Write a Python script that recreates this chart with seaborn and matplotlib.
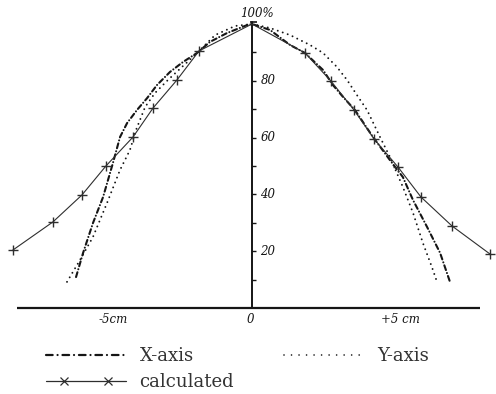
import matplotlib
matplotlib.use("Agg")
import matplotlib.pyplot as plt
from matplotlib.lines import Line2D
from matplotlib.legend_handler import HandlerLine2D, HandlerTuple
import seaborn as sns

# Measured intensity profiles (cm from centre, percent of central value)
xaxis_cm = [-6.24, -5.99, -5.64, -5.28, -4.93, -4.68, -4.43, -4.08, -3.72, -3.37,
            -2.91, -2.45, -1.95, -1.49, -0.89, -0.18, 0.0, 0.64, 1.35, 1.88,
            2.52, 2.87, 3.23, 3.65, 4.29, 4.89, 5.35, 5.71, 6.21, 6.67, 7.02]
xaxis_pct = [10.9, 19.4, 29.9, 39.1, 51.1, 60.2, 65.1, 69.7, 73.9, 78.5,
             83.1, 86.6, 89.8, 93.7, 96.8, 99.6, 100.0, 97.9, 92.6, 89.8,
             83.8, 78.5, 74.3, 69.7, 60.2, 52.1, 46.1, 38.0, 28.5, 19.4, 9.2]

yaxis_cm = [-6.56, -6.10, -5.64, -5.14, -4.68, -4.33, -4.10, -3.79, -3.44, -2.98,
            -2.48, -2.02, -1.31, -0.60, 0.0, 0.64, 1.35, 2.06, 2.52, 3.01,
            3.37, 3.72, 4.08, 4.54, 4.89, 5.35, 5.71, 6.06, 6.38, 6.56]
yaxis_pct = [9.2, 16.9, 25.0, 37.0, 48.6, 55.6, 63.0, 70.8, 75.7, 80.3,
             84.9, 89.1, 96.1, 99.3, 100.0, 98.6, 96.1, 92.6, 89.8, 84.9,
             80.3, 75.0, 69.7, 60.2, 53.2, 42.6, 33.5, 22.9, 14.4, 9.2]

# Calculated profile
calc_cm = [-8.48, -7.06, -6.03, -5.18, -4.22, -3.51, -2.66, -1.88, 0.0,
           1.88, 2.80, 3.62, 4.33, 5.18, 5.99, 7.09, 8.44]
calc_pct = [20.4, 30.3, 39.8, 50.0, 60.2, 70.4, 80.3, 90.5, 100.0,
            89.8, 79.9, 69.7, 59.5, 49.6, 39.1, 28.9, 19.0]

y_tick_labels = [80, 60, 40, 20]
y_minor = [10, 20, 30, 40, 50, 60, 70, 80, 90]

sns.set_theme(style="white")
plt.rcParams["font.family"] = ["DejaVu Serif"]

INK = "#151515"
SOFT = "#2e2e2e"

fig = plt.figure(figsize=(4.96, 3.94), dpi=100)
ax = fig.add_axes([0, 0, 1, 1])
ax.set_axis_off()
ax.set_xlim(-252 / 28.2, (496 - 252) / 28.2)
ax.set_ylim((308 - 394) / 2.84, 308 / 2.84)

# hand-drawn axes
ax.plot([-8.33, 8.09], [0, 0], color=INK, lw=1.6, solid_capstyle="butt")
ax.plot([0, 0], [0, 100.8], color=INK, lw=1.4)
ax.hlines(y_minor, 0, 0.15, color=INK, lw=1.0)
ax.hlines(100.6, -0.08, 0.18, color=INK, lw=1.2)

lab = dict(family="DejaVu Serif", fontstyle="italic", size=8.5, color=INK)
for v in y_tick_labels:
    ax.text(0.3, v, str(v), ha="left", va="center", **lab)
ax.text(0.18, 103.6, "100%", ha="center", va="center", **lab)
ax.text(-4.93, -4.0, "-5cm", ha="center", va="center", **lab)
ax.text(-0.07, -4.2, "0", ha="center", va="center", **lab)
ax.text(5.28, -4.2, "+5 cm", ha="center", va="center", **lab)

sns.lineplot(x=xaxis_cm, y=xaxis_pct, ax=ax, sort=False, estimator=None,
             color=INK, lw=1.5, linestyle=(0, (2.4, 1.5, 0.01, 1.5)),
             dash_capstyle="round")
sns.lineplot(x=yaxis_cm, y=yaxis_pct, ax=ax, sort=False, estimator=None,
             color=INK, lw=1.4, linestyle=(0, (0.01, 2.7)),
             dash_capstyle="round")
sns.lineplot(x=calc_cm, y=calc_pct, ax=ax, sort=False, estimator=None,
             color=SOFT, lw=0.8)
calc_line = ax.lines[-1]
calc_line.set_marker("+")
calc_line.set_markersize(7)
calc_line.set_markeredgewidth(1.0)
calc_line.set_markeredgecolor(SOFT)
calc_line.set_markevery([i for i, c in enumerate(calc_cm) if c != 0.0])

# legend keys
key_x = Line2D([], [], color=INK, lw=1.6, linestyle=(0, (3.0, 2.2, 0.01, 2.2)),
               dash_capstyle="round")
key_calc_line = Line2D([], [], color=SOFT, lw=0.9)
key_calc_marks = Line2D([], [], color=SOFT, lw=0, linestyle="none", marker="x",
                        markersize=6, markeredgewidth=0.9)
key_y = Line2D([], [], color=INK, lw=1.2, linestyle=(0, (0.01, 4.5)),
               dash_capstyle="round")

handles = [key_x, (key_calc_line, key_calc_marks), key_y]
labels = ["X-axis", "calculated", "Y-axis"]
leg = ax.legend(handles, labels, ncol=2, loc="upper left",
                bbox_to_anchor=(41 / 496, 1 - 347 / 394), frameon=False,
                borderpad=0, borderaxespad=0, handlelength=5.0,
                handletextpad=0.45, columnspacing=2.45, labelspacing=0.45,
                numpoints=2,
                handler_map={
                    tuple: HandlerTuple(ndivide=1, pad=0),
                    key_calc_marks: HandlerLine2D(marker_pad=1.3, numpoints=2),
                },
                prop={"family": "DejaVu Serif", "size": 13})
for t in leg.get_texts():
    t.set_color("#333333")

fig.savefig("out.png", dpi=100)
